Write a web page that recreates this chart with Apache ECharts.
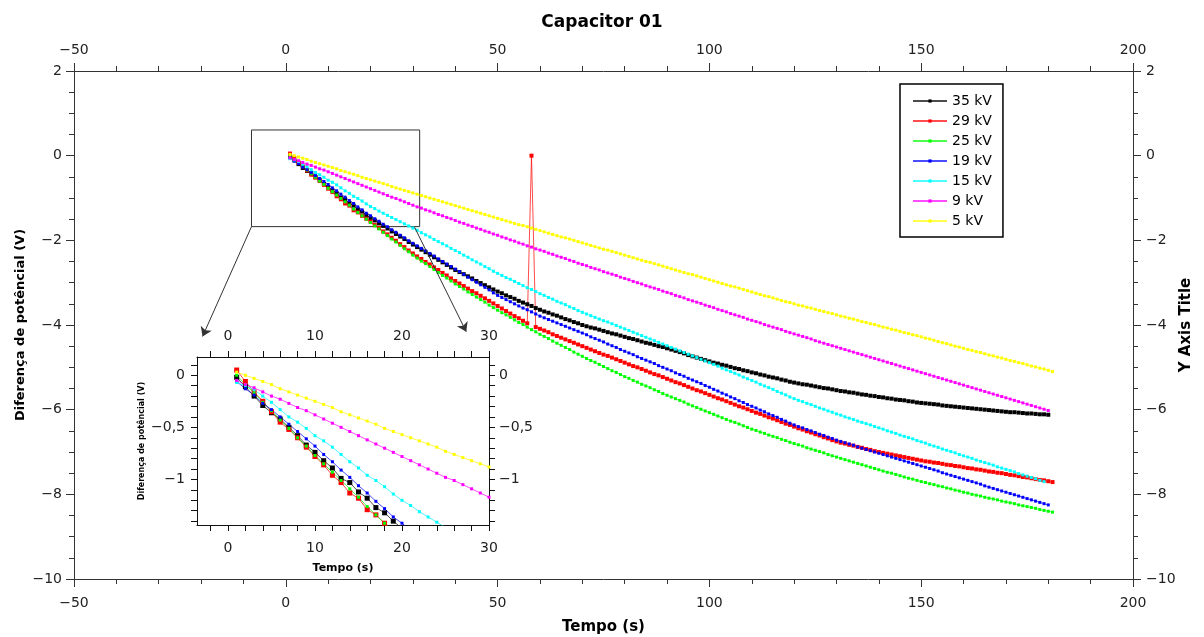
<!DOCTYPE html>
<html><head><meta charset="utf-8">
<script src="https://cdn.jsdelivr.net/npm/echarts@6/dist/echarts.min.js"></script>
<style>html,body{margin:0;padding:0;background:#fff;overflow:hidden}#c{width:1204px;height:637px}</style>
</head><body><div id="c"></div>
<script>
// ---------- data ----------
const seriesNames = ['35 kV','29 kV','25 kV','19 kV','15 kV','9 kV','5 kV'];
const seriesColors = ['#000000','#ff0000','#00ff00','#0000ff','#00ffff','#ff00ff','#ffff00'];
const tStart = 1, tStep = 1; // seconds

const v35 = [-0.02,-0.11,-0.20,-0.29,-0.36,-0.42,-0.50,-0.58,-0.67,-0.74,
-0.82,-0.89,-0.99,-1.03,-1.12,-1.18,-1.27,-1.32,-1.40,-1.47,
-1.53,-1.60,-1.66,-1.72,-1.79,-1.85,-1.91,-1.97,-2.04,-2.10,
-2.16,-2.22,-2.28,-2.34,-2.40,-2.46,-2.52,-2.58,-2.64,-2.70,
-2.75,-2.80,-2.85,-2.90,-2.96,-3.01,-3.06,-3.11,-3.16,-3.21,
-3.25,-3.30,-3.34,-3.38,-3.43,-3.47,-3.51,-3.55,-3.60,-3.64,
-3.68,-3.71,-3.75,-3.78,-3.82,-3.86,-3.89,-3.93,-3.96,-4.00,
-4.03,-4.06,-4.08,-4.11,-4.14,-4.17,-4.20,-4.22,-4.25,-4.28,
-4.31,-4.33,-4.36,-4.39,-4.42,-4.44,-4.47,-4.50,-4.52,-4.55,
-4.58,-4.61,-4.64,-4.67,-4.71,-4.74,-4.77,-4.80,-4.83,-4.86,
-4.89,-4.91,-4.94,-4.96,-4.99,-5.02,-5.04,-5.07,-5.09,-5.12,
-5.14,-5.17,-5.19,-5.22,-5.24,-5.26,-5.29,-5.31,-5.34,-5.36,
-5.38,-5.40,-5.41,-5.43,-5.45,-5.47,-5.49,-5.50,-5.52,-5.54,
-5.56,-5.57,-5.59,-5.60,-5.62,-5.64,-5.65,-5.67,-5.68,-5.70,
-5.71,-5.73,-5.74,-5.76,-5.77,-5.78,-5.80,-5.81,-5.83,-5.84,
-5.85,-5.86,-5.87,-5.88,-5.90,-5.91,-5.92,-5.93,-5.94,-5.95,
-5.96,-5.97,-5.98,-5.99,-6.00,-6.01,-6.02,-6.03,-6.04,-6.05,
-6.06,-6.06,-6.07,-6.08,-6.09,-6.09,-6.10,-6.11,-6.11,-6.12];

const v29 = [0.05,-0.06,-0.16,-0.25,-0.35,-0.45,-0.52,-0.60,-0.69,-0.78,
-0.86,-0.96,-1.03,-1.13,-1.18,-1.29,-1.34,-1.42,-1.49,-1.56,
-1.64,-1.71,-1.79,-1.86,-1.94,-2.01,-2.09,-2.16,-2.24,-2.31,
-2.38,-2.44,-2.51,-2.57,-2.64,-2.70,-2.77,-2.83,-2.90,-2.96,
-3.02,-3.08,-3.14,-3.20,-3.25,-3.31,-3.37,-3.43,-3.49,-3.55,
-3.61,-3.67,-3.73,-3.79,-3.84,-3.90,-3.96,0.00,-4.05,-4.09,
-4.13,-4.17,-4.22,-4.26,-4.30,-4.34,-4.38,-4.42,-4.46,-4.50,
-4.54,-4.58,-4.62,-4.66,-4.70,-4.73,-4.77,-4.81,-4.85,-4.89,
-4.93,-4.97,-5.00,-5.04,-5.08,-5.12,-5.16,-5.19,-5.23,-5.27,
-5.31,-5.35,-5.38,-5.42,-5.46,-5.50,-5.54,-5.57,-5.61,-5.65,
-5.69,-5.73,-5.76,-5.80,-5.84,-5.88,-5.92,-5.95,-5.99,-6.03,
-6.07,-6.10,-6.14,-6.18,-6.21,-6.25,-6.29,-6.33,-6.36,-6.40,
-6.44,-6.47,-6.51,-6.54,-6.58,-6.61,-6.65,-6.68,-6.72,-6.75,
-6.78,-6.80,-6.83,-6.85,-6.88,-6.90,-6.93,-6.95,-6.98,-7.00,
-7.02,-7.04,-7.06,-7.08,-7.10,-7.12,-7.14,-7.16,-7.18,-7.20,
-7.22,-7.23,-7.25,-7.26,-7.28,-7.30,-7.31,-7.33,-7.34,-7.36,
-7.38,-7.39,-7.41,-7.42,-7.44,-7.46,-7.47,-7.49,-7.50,-7.52,
-7.54,-7.55,-7.57,-7.59,-7.60,-7.62,-7.64,-7.66,-7.67,-7.69,
-7.71];

const v25 = [0.00,-0.09,-0.17,-0.26,-0.34,-0.43,-0.51,-0.60,-0.68,-0.77,
-0.85,-0.93,-1.01,-1.09,-1.17,-1.26,-1.34,-1.42,-1.50,-1.58,
-1.66,-1.73,-1.81,-1.89,-1.97,-2.04,-2.12,-2.20,-2.27,-2.35,
-2.42,-2.49,-2.55,-2.62,-2.69,-2.76,-2.83,-2.89,-2.96,-3.03,
-3.09,-3.15,-3.22,-3.28,-3.34,-3.40,-3.46,-3.53,-3.59,-3.65,
-3.71,-3.76,-3.82,-3.88,-3.94,-3.99,-4.05,-4.11,-4.16,-4.22,
-4.27,-4.32,-4.38,-4.43,-4.48,-4.53,-4.58,-4.64,-4.69,-4.74,
-4.79,-4.84,-4.88,-4.93,-4.98,-5.03,-5.08,-5.12,-5.17,-5.22,
-5.26,-5.31,-5.35,-5.40,-5.44,-5.48,-5.53,-5.57,-5.62,-5.66,
-5.70,-5.74,-5.78,-5.82,-5.87,-5.91,-5.95,-5.99,-6.03,-6.07,
-6.11,-6.15,-6.19,-6.23,-6.27,-6.30,-6.34,-6.38,-6.42,-6.46,
-6.49,-6.53,-6.56,-6.60,-6.63,-6.66,-6.70,-6.73,-6.77,-6.80,
-6.83,-6.86,-6.90,-6.93,-6.96,-6.99,-7.02,-7.06,-7.09,-7.12,
-7.15,-7.18,-7.21,-7.24,-7.27,-7.30,-7.33,-7.36,-7.39,-7.42,
-7.45,-7.48,-7.50,-7.53,-7.56,-7.59,-7.62,-7.64,-7.67,-7.70,
-7.72,-7.75,-7.77,-7.80,-7.82,-7.85,-7.87,-7.90,-7.92,-7.95,
-7.97,-8.00,-8.02,-8.04,-8.07,-8.09,-8.11,-8.13,-8.16,-8.18,
-8.20,-8.22,-8.25,-8.27,-8.29,-8.31,-8.33,-8.36,-8.38,-8.40,
-8.42];

const v19 = [-0.06,-0.13,-0.19,-0.27,-0.33,-0.40,-0.47,-0.54,-0.61,-0.68,
-0.76,-0.83,-0.91,-0.98,-1.06,-1.13,-1.21,-1.28,-1.36,-1.42,
-1.49,-1.55,-1.62,-1.68,-1.75,-1.81,-1.88,-1.94,-2.01,-2.07,
-2.13,-2.19,-2.25,-2.31,-2.37,-2.44,-2.50,-2.56,-2.62,-2.68,
-2.74,-2.80,-2.87,-2.93,-2.99,-3.05,-3.11,-3.17,-3.24,-3.30,
-3.35,-3.40,-3.45,-3.50,-3.55,-3.60,-3.64,-3.69,-3.74,-3.79,
-3.83,-3.87,-3.91,-3.95,-3.99,-4.03,-4.07,-4.11,-4.15,-4.19,
-4.23,-4.28,-4.32,-4.36,-4.40,-4.45,-4.49,-4.53,-4.58,-4.62,
-4.66,-4.70,-4.75,-4.79,-4.83,-4.87,-4.91,-4.96,-5.00,-5.04,
-5.08,-5.13,-5.17,-5.21,-5.26,-5.30,-5.34,-5.38,-5.43,-5.47,
-5.52,-5.56,-5.61,-5.65,-5.70,-5.74,-5.79,-5.83,-5.88,-5.92,
-5.96,-6.01,-6.05,-6.10,-6.14,-6.18,-6.23,-6.27,-6.32,-6.36,
-6.40,-6.43,-6.47,-6.50,-6.54,-6.58,-6.61,-6.65,-6.68,-6.72,
-6.75,-6.78,-6.81,-6.84,-6.88,-6.91,-6.94,-6.97,-7.00,-7.03,
-7.06,-7.09,-7.12,-7.15,-7.18,-7.21,-7.24,-7.27,-7.30,-7.33,
-7.36,-7.39,-7.42,-7.45,-7.49,-7.52,-7.55,-7.58,-7.61,-7.64,
-7.67,-7.70,-7.73,-7.76,-7.80,-7.83,-7.86,-7.89,-7.92,-7.95,
-7.98,-8.01,-8.04,-8.07,-8.10,-8.13,-8.16,-8.19,-8.22,-8.25];

const v15 = [-0.07,-0.10,-0.14,-0.20,-0.26,-0.33,-0.40,-0.45,-0.51,-0.58,
-0.63,-0.69,-0.76,-0.83,-0.89,-0.96,-1.01,-1.07,-1.14,-1.20,
-1.25,-1.31,-1.36,-1.41,-1.46,-1.51,-1.56,-1.61,-1.66,-1.71,
-1.76,-1.82,-1.87,-1.92,-1.98,-2.03,-2.08,-2.13,-2.19,-2.24,
-2.29,-2.35,-2.40,-2.46,-2.51,-2.56,-2.62,-2.67,-2.73,-2.78,
-2.83,-2.88,-2.92,-2.97,-3.02,-3.07,-3.12,-3.16,-3.21,-3.26,
-3.30,-3.35,-3.39,-3.44,-3.48,-3.52,-3.57,-3.61,-3.66,-3.70,
-3.74,-3.78,-3.82,-3.86,-3.90,-3.93,-3.97,-4.01,-4.05,-4.09,
-4.13,-4.17,-4.21,-4.25,-4.29,-4.33,-4.37,-4.41,-4.45,-4.49,
-4.53,-4.57,-4.61,-4.65,-4.69,-4.73,-4.77,-4.81,-4.85,-4.89,
-4.93,-4.97,-5.02,-5.06,-5.10,-5.14,-5.18,-5.23,-5.27,-5.31,
-5.35,-5.40,-5.44,-5.48,-5.52,-5.57,-5.61,-5.65,-5.70,-5.74,
-5.78,-5.81,-5.85,-5.88,-5.92,-5.96,-5.99,-6.03,-6.06,-6.10,
-6.13,-6.17,-6.20,-6.23,-6.27,-6.30,-6.33,-6.36,-6.40,-6.43,
-6.46,-6.50,-6.53,-6.56,-6.60,-6.63,-6.66,-6.69,-6.73,-6.76,
-6.79,-6.83,-6.86,-6.89,-6.93,-6.96,-6.99,-7.02,-7.06,-7.09,
-7.12,-7.15,-7.19,-7.22,-7.25,-7.28,-7.31,-7.35,-7.38,-7.41,
-7.44,-7.47,-7.51,-7.54,-7.57,-7.60,-7.63,-7.67,-7.70];

const v9 = [-0.05,-0.09,-0.12,-0.16,-0.20,-0.23,-0.27,-0.31,-0.34,-0.38,
-0.42,-0.46,-0.50,-0.54,-0.58,-0.62,-0.66,-0.70,-0.74,-0.78,
-0.82,-0.86,-0.90,-0.94,-0.98,-1.01,-1.05,-1.09,-1.13,-1.17,
-1.21,-1.24,-1.28,-1.31,-1.35,-1.39,-1.42,-1.46,-1.49,-1.53,
-1.57,-1.60,-1.64,-1.67,-1.71,-1.74,-1.78,-1.81,-1.85,-1.88,
-1.92,-1.95,-1.99,-2.02,-2.06,-2.09,-2.13,-2.16,-2.20,-2.23,
-2.26,-2.30,-2.33,-2.37,-2.40,-2.43,-2.47,-2.50,-2.54,-2.57,
-2.60,-2.64,-2.67,-2.70,-2.74,-2.77,-2.80,-2.83,-2.87,-2.90,
-2.93,-2.97,-3.00,-3.03,-3.07,-3.10,-3.13,-3.16,-3.20,-3.23,
-3.26,-3.30,-3.33,-3.36,-3.40,-3.43,-3.46,-3.49,-3.53,-3.56,
-3.59,-3.63,-3.66,-3.69,-3.73,-3.76,-3.79,-3.82,-3.86,-3.89,
-3.92,-3.95,-3.99,-4.02,-4.05,-4.08,-4.11,-4.15,-4.18,-4.21,
-4.24,-4.27,-4.30,-4.33,-4.37,-4.40,-4.43,-4.46,-4.49,-4.52,
-4.55,-4.58,-4.61,-4.64,-4.67,-4.70,-4.73,-4.76,-4.79,-4.82,
-4.85,-4.88,-4.91,-4.94,-4.97,-5.00,-5.03,-5.06,-5.09,-5.12,
-5.15,-5.18,-5.21,-5.24,-5.27,-5.30,-5.33,-5.36,-5.39,-5.42,
-5.45,-5.48,-5.51,-5.54,-5.57,-5.60,-5.63,-5.66,-5.69,-5.72,
-5.75,-5.78,-5.81,-5.84,-5.87,-5.90,-5.93,-5.96,-5.99,-6.02];

const v5 = [0.03,0.00,-0.03,-0.06,-0.09,-0.13,-0.16,-0.19,-0.22,-0.25,
-0.28,-0.31,-0.35,-0.38,-0.41,-0.44,-0.47,-0.51,-0.54,-0.57,
-0.60,-0.63,-0.66,-0.69,-0.73,-0.76,-0.79,-0.82,-0.85,-0.88,
-0.91,-0.94,-0.97,-1.00,-1.03,-1.06,-1.09,-1.12,-1.15,-1.18,
-1.21,-1.24,-1.27,-1.30,-1.33,-1.36,-1.39,-1.42,-1.45,-1.48,
-1.51,-1.54,-1.57,-1.60,-1.63,-1.65,-1.68,-1.71,-1.74,-1.77,
-1.80,-1.83,-1.86,-1.89,-1.92,-1.94,-1.97,-2.00,-2.03,-2.06,
-2.09,-2.12,-2.15,-2.18,-2.21,-2.23,-2.26,-2.29,-2.32,-2.35,
-2.38,-2.41,-2.44,-2.47,-2.50,-2.52,-2.55,-2.58,-2.61,-2.64,
-2.67,-2.70,-2.73,-2.76,-2.79,-2.81,-2.84,-2.87,-2.90,-2.93,
-2.96,-2.99,-3.02,-3.05,-3.08,-3.10,-3.13,-3.16,-3.19,-3.22,
-3.25,-3.28,-3.31,-3.33,-3.36,-3.39,-3.42,-3.45,-3.47,-3.50,
-3.53,-3.55,-3.58,-3.60,-3.63,-3.66,-3.68,-3.71,-3.73,-3.76,
-3.79,-3.81,-3.84,-3.86,-3.89,-3.92,-3.94,-3.97,-3.99,-4.02,
-4.05,-4.07,-4.10,-4.12,-4.15,-4.18,-4.20,-4.23,-4.25,-4.28,
-4.31,-4.33,-4.36,-4.39,-4.42,-4.44,-4.47,-4.50,-4.52,-4.55,
-4.58,-4.60,-4.63,-4.65,-4.68,-4.71,-4.73,-4.76,-4.78,-4.81,
-4.84,-4.86,-4.89,-4.91,-4.94,-4.97,-4.99,-5.02,-5.04,-5.07,
-5.10];

// inset tick positions / labels
const insetXTicks = [-2,0,2,4,6,8,10,12,14,16,18,20,22,24,26,28,30];
const insetXLabels = [0,10,20,30];
const insetYTicks = [0.1,0,-0.1,-0.2,-0.3,-0.4,-0.5,-0.6,-0.7,-0.8,-0.9,-1,-1.1,-1.2,-1.3,-1.4];
const insetYLabels = [0,-0.5,-1];

// zoom box (data coords) and arrows
const zoomBox = [[-8.1, 0.607], [31.6, -1.676]];
const arrowLeft = [[-8.1, -1.676], [-19.65, -4.27]];
const arrowRight = [[30.4, -1.69], [42.6, -4.16]];

// ---------- chart ----------
const FONT = 'DejaVu Sans';
const allData = [v35, v29, v25, v19, v15, v9, v5];
const fmtMain = v => String(v).replace('-', '\u2212');
const fmtInset = v => String(v).replace('-', '\u2212').replace('.', ',');
const toPts = arr => arr.map((v, i) => [tStart + i * tStep, v]);

function axisBase(o) {
  return Object.assign({
    type: 'value',
    nameMoveOverlap: false,
    splitLine: { show: false },
    axisLine: { show: true, onZero: false, lineStyle: { color: '#333', width: 1 } },
    axisTick: { show: true, inside: false, length: 8, lineStyle: { color: '#333' } },
    axisLabel: { fontFamily: FONT, fontSize: 14, color: '#222' },
    nameTextStyle: { fontFamily: FONT, fontWeight: 'bold', color: '#000' }
  }, o);
}

const xAxes = [
  axisBase({ gridIndex: 0, position: 'bottom', min: -50, max: 200, interval: 50,
    name: 'Tempo (s)', nameLocation: 'middle', nameGap: 41,
    nameTextStyle: { fontFamily: FONT, fontWeight: 'bold', fontSize: 15, color: '#000' },
    minorTick: { show: true, splitNumber: 5, length: 5, lineStyle: { color: '#333' } },
    axisLabel: { fontFamily: FONT, fontSize: 14, color: '#222', margin: 17, formatter: fmtMain } }),
  axisBase({ gridIndex: 0, position: 'top', min: -50, max: 200, interval: 50,
    minorTick: { show: true, splitNumber: 5, length: 5, lineStyle: { color: '#333' } },
    axisLabel: { fontFamily: FONT, fontSize: 14, color: '#222', margin: 14, formatter: fmtMain } }),
  axisBase({ gridIndex: 1, position: 'bottom', min: -3.56, max: 30,
    name: 'Tempo (s)', nameLocation: 'middle', nameGap: 38,
    nameTextStyle: { fontFamily: FONT, fontWeight: 'bold', fontSize: 11, color: '#000' },
    axisLine: { show: true, onZero: false, lineStyle: { color: '#111', width: 1 } },
    axisTick: { show: true, length: 6, customValues: insetXTicks, lineStyle: { color: '#111' } },
    axisLabel: { fontFamily: FONT, fontSize: 14, color: '#222', margin: 16, customValues: insetXLabels, formatter: fmtInset } }),
  axisBase({ gridIndex: 1, position: 'top', min: -3.56, max: 30,
    axisLine: { show: true, onZero: false, lineStyle: { color: '#111', width: 1 } },
    axisTick: { show: true, length: 6, customValues: insetXTicks, lineStyle: { color: '#111' } },
    axisLabel: { fontFamily: FONT, fontSize: 14, color: '#222', margin: 14, customValues: insetXLabels, formatter: fmtInset } })
];

const yAxes = [
  axisBase({ gridIndex: 0, position: 'left', min: -10, max: 2, interval: 2,
    name: 'Diferença de potêncial (V)', nameLocation: 'middle', nameGap: 47,
    nameTextStyle: { fontFamily: FONT, fontWeight: 'bold', fontSize: 13, color: '#000' },
    minorTick: { show: true, splitNumber: 4, length: 5, lineStyle: { color: '#333' } },
    axisLabel: { fontFamily: FONT, fontSize: 14, color: '#222', margin: 12, formatter: fmtMain } }),
  axisBase({ gridIndex: 0, position: 'right', min: -10, max: 2, interval: 2,
    name: 'Y Axis Title', nameLocation: 'middle', nameGap: 46,
    nameTextStyle: { fontFamily: FONT, fontWeight: 'bold', fontSize: 15, color: '#000' },
    minorTick: { show: true, splitNumber: 4, length: 5, lineStyle: { color: '#333' } },
    axisLabel: { fontFamily: FONT, fontSize: 14, color: '#222', margin: 13, formatter: fmtMain } }),
  axisBase({ gridIndex: 1, position: 'left', min: -1.437, max: 0.175,
    name: 'Diferença de potêncial (V)', nameLocation: 'middle', nameGap: 51,
    nameTextStyle: { fontFamily: FONT, fontWeight: 'bold', fontSize: 8, color: '#000' },
    axisLine: { show: true, onZero: false, lineStyle: { color: '#111', width: 1 } },
    axisTick: { show: true, length: 6, customValues: insetYTicks, lineStyle: { color: '#111' } },
    axisLabel: { fontFamily: FONT, fontSize: 14, color: '#222', margin: 12, customValues: insetYLabels, formatter: fmtInset } }),
  axisBase({ gridIndex: 1, position: 'right', min: -1.437, max: 0.175,
    axisLine: { show: true, onZero: false, lineStyle: { color: '#111', width: 1 } },
    axisTick: { show: true, length: 6, customValues: insetYTicks, lineStyle: { color: '#111' } },
    axisLabel: { fontFamily: FONT, fontSize: 14, color: '#222', margin: 10, customValues: insetYLabels, formatter: fmtInset } })
];

const series = [];
allData.forEach((arr, k) => {
  const big = k < 2;
  series.push({
    type: 'line', name: seriesNames[k], xAxisIndex: 0, yAxisIndex: 0,
    data: toPts(arr), symbol: 'rect', symbolSize: big ? 4 : 3, showSymbol: true,
    lineStyle: { color: seriesColors[k], width: 1, opacity: 0.7 },
    itemStyle: { color: seriesColors[k] }, silent: true, z: 3
  });
});
allData.forEach((arr, k) => {
  const big = k < 2;
  series.push({
    type: 'line', name: seriesNames[k], xAxisIndex: 2, yAxisIndex: 2,
    data: toPts(arr), symbol: 'rect', symbolSize: big ? 5 : 3, showSymbol: true, clip: true,
    lineStyle: { color: seriesColors[k], width: 1, opacity: 0.7 },
    itemStyle: { color: seriesColors[k] }, silent: true, z: 3
  });
});
// zoom box + arrows as annotations on the main grid
series[0].markArea = {
  silent: true,
  itemStyle: { color: 'rgba(0,0,0,0)', borderColor: '#333', borderWidth: 1 },
  data: [[{ coord: zoomBox[0] }, { coord: zoomBox[1] }]]
};
series[0].markLine = {
  silent: true, symbol: ['none', 'arrow'], symbolSize: 9,
  lineStyle: { color: '#333', width: 1, type: 'solid' },
  label: { show: false },
  data: [
    [{ coord: arrowLeft[0] }, { coord: arrowLeft[1] }],
    [{ coord: arrowRight[0] }, { coord: arrowRight[1] }]
  ]
};

const option = {
  animation: false,
  backgroundColor: '#fff',
  title: { text: 'Capacitor 01', left: 'center', top: 9,
    textStyle: { fontFamily: FONT, fontWeight: 'bold', fontSize: 17, color: '#000' } },
  legend: {
    data: seriesNames, orient: 'vertical', left: 900, top: 84,
    padding: [10, 11, 9, 12], itemGap: 6, itemWidth: 34, itemHeight: 4,
    borderColor: '#000', borderWidth: 1.5, backgroundColor: '#fff',
    textStyle: { fontFamily: FONT, fontSize: 14, color: '#000', lineHeight: 14 }
  },
  grid: [
    { left: 74, top: 71, right: 71, bottom: 58, containLabel: false, outerBoundsMode: 'none' },
    { left: 197, top: 357, right: 715, bottom: 112, containLabel: false, outerBoundsMode: 'none',
      show: true, backgroundColor: '#fff', borderWidth: 0 }
  ],
  xAxis: xAxes,
  yAxis: yAxes,
  series: series
};

const chart = echarts.init(document.getElementById('c'), null, { renderer: 'canvas' });
chart.setOption(option);
</script>
</body></html>
